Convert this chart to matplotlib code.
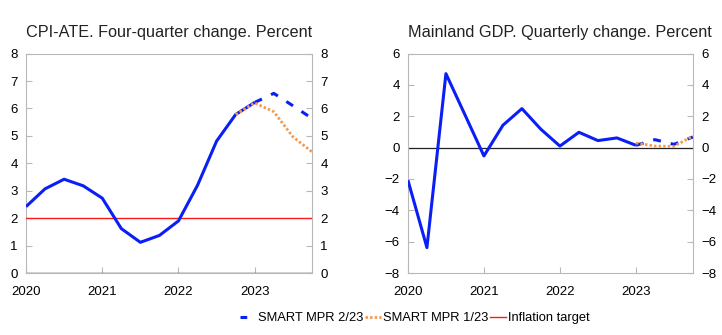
import matplotlib.pyplot as plt
from matplotlib.lines import Line2D
import numpy as np

plt.rcParams['font.family'] = ['Liberation Sans', 'DejaVu Sans']

quarters = ["2020Q1", "2020Q2", "2020Q3", "2020Q4",
            "2021Q1", "2021Q2", "2021Q3", "2021Q4",
            "2022Q1", "2022Q2", "2022Q3", "2022Q4",
            "2023Q1", "2023Q2", "2023Q3", "2023Q4"]

# CPI-ATE, four-quarter change
cpi_hist = [2.42, 3.07, 3.42, 3.18, 2.73, 1.62, 1.12, 1.37, 1.90, 3.20, 4.81, 5.78, 6.22]
cpi_mpr223 = [6.22, 6.55, 6.10, 5.64]      # 2023Q1-2023Q4
cpi_mpr123 = [5.78, 6.20, 5.88, 4.97, 4.42]  # 2022Q4-2023Q4
inflation_target = 2.0

# Mainland GDP, quarterly change
gdp_hist = [-2.08, -6.38, 4.72, 2.10, -0.53, 1.43, 2.49, 1.17, 0.10, 0.98, 0.45, 0.62, 0.15]
gdp_mpr223 = [0.15, 0.51, 0.21, 0.68]   # 2023Q1-2023Q4
gdp_mpr123 = [0.30, 0.10, 0.08, 0.74]   # 2023Q1-2023Q4


def qpos(label):
    return int(label[:4]) + (int(label[-1]) - 1) / 4


x = np.array([qpos(q) for q in quarters])

BLUE = '#0a1ff5'
ORANGE = '#f59a50'
RED = '#ff1a1a'
GRID = '#b8b8b8'
DASH = (0, (2.6, 3.3))
DOT = (0, (0.9, 0.75))

fig = plt.figure(figsize=(7.22, 3.35), dpi=100)
ax1 = fig.add_axes([0.036, 0.185, 0.396, 0.655])
ax2 = fig.add_axes([0.565, 0.185, 0.3947, 0.655])


def style(ax, ylim, yticks):
    ax.set_xlim(2020, 2023.75)
    ax.set_ylim(*ylim)
    ax.set_yticks(yticks)
    ax.set_xticks([2020, 2021, 2022, 2023])
    ax.set_xticklabels(['2020', '2021', '2022', '2023'])
    for s in ax.spines.values():
        s.set_color(GRID)
        s.set_linewidth(0.8)
    ax.tick_params(axis='both', direction='in', length=4, color=GRID,
                   labelsize=9.5, pad=6)
    ax.tick_params(axis='y', right=True, labelright=True)
    ax.tick_params(axis='x', pad=9)


def plot_panel(ax, hist, p2, p1, title):
    n = len(hist)
    ax.plot(x[:n], hist, color=BLUE, lw=2.2, solid_capstyle='butt', zorder=4)
    ax.plot(x[n - 1:n - 1 + len(p2)], p2, color=BLUE, lw=2.2,
            linestyle=DASH, dash_capstyle='butt', zorder=4)
    ax.plot(x[len(x) - len(p1):], p1, color=ORANGE, lw=2.0,
            linestyle=DOT, dash_capstyle='butt', zorder=5)
    ax.set_title(title, loc='left', fontsize=11.7, pad=12, color='#222222')


plot_panel(ax1, cpi_hist, cpi_mpr223, cpi_mpr123,
           'CPI-ATE. Four-quarter change. Percent')
ax1.axhline(inflation_target, color=RED, lw=1.0, zorder=3)
ax1.axhline(0, color='#222222', lw=1.0, zorder=2)
style(ax1, (0, 8), range(0, 9))

plot_panel(ax2, gdp_hist, gdp_mpr223, gdp_mpr123,
           'Mainland GDP. Quarterly change. Percent')
ax2.axhline(0, color='#222222', lw=0.9, zorder=2)
style(ax2, (-8, 6), range(-8, 7, 2))

handles = [
    Line2D([], [], color=BLUE, lw=2.2, linestyle=(0, (2.2, 8)), dash_capstyle='butt'),
    Line2D([], [], color=ORANGE, lw=2.0, linestyle=DOT, dash_capstyle='butt'),
    Line2D([], [], color=RED, lw=1.0),
]
labels = ['SMART MPR 2/23', 'SMART MPR 1/23', 'Inflation target']
fig.legend(handles, labels, loc='center left', bbox_to_anchor=(0.324, 0.05),
           ncol=3, frameon=False, fontsize=9.3, handlelength=1.25,
           handletextpad=0.15, columnspacing=0.1, borderpad=0)

fig.savefig('out.png', dpi=100)
